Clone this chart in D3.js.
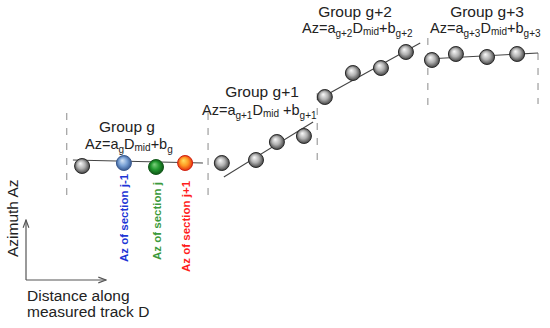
<!DOCTYPE html>
<meta charset="utf-8">
<head>
  <title>Azimuth groups along measured track</title>
  <style>
    body { margin: 0; background: #fff; }
    svg { display: block; font-family: "Liberation Sans", Arial, sans-serif; }
    .fit { stroke: #444; stroke-width: 1.1px; fill: none; }
    .bound { stroke: #8a8a8a; stroke-width: 1px; stroke-dasharray: 7,8; }
    .axis-arrow { stroke: #555; stroke-width: 1.2px; fill: none; }
    .lbl { fill: #222; }
  </style>
</head>
<body>
  <svg width="550" height="328"></svg>
  <script src="https://d3js.org/d3.v7.min.js"></script>
  <script>
    // groups (D and Az in arbitrary units 0-100)
    var groups = ["g", "g+1", "g+2", "g+3"];

    // section midpoints per group
    var pointD = [
      [10.8, 19.0, 25.3, 31.0],
      [38.2, 44.9, 49.0, 54.3],
      [58.4, 63.9, 69.4, 74.3],
      [79.4, 84.1, 90.2, 96.1]
    ];
    var pointAz = [
      [45.6, 46.8, 45.2, 46.8],
      [46.8, 48.0, 55.2, 57.6],
      [73.2, 82.8, 84.8, 91.2],
      [88.0, 90.4, 89.2, 90.4]
    ];
    // which sections are highlighted (group g, sections j-1, j, j+1)
    var sectionTags = [[null, "j-1", "j", "j+1"], [null, null, null, null], [null, null, null, null], [null, null, null, null]];

    // fitted line Az = a*D + b, drawn between two D values
    var fitD = [[9.0, 34.5], [38.6, 56.1], [56.9, 77.1], [78.4, 100.2]];
    var fitAz = [[48.0, 46.8], [41.2, 63.2], [72.0, 94.8], [88.4, 90.8]];

    // group boundaries (dashed)
    var boundD = [7.8, 35.5, 56.9, 78.6, 100.2];
    var boundAz = [[31.2, 66.8], [31.2, 66.8], [47.2, 74.8], [67.2, 96.8], [70.4, 90.8]];

    var svg = d3.select("svg");
    var x = d3.scaleLinear().domain([0, 100]).range([27, 537]);
    var y = d3.scaleLinear().domain([0, 100]).range([280, 30]);

    var defs = svg.append("defs");
    var palettes = {
      gray:  ["#fbfbfb", "#b0b0b0", "#333333"],
      "j-1": ["#d8e6f6", "#7aa2d6", "#2d4f88"],
      "j":   ["#7fd07f", "#239a30", "#0b4a12"],
      "j+1": ["#ffe060", "#ff9a24", "#e0200c"]
    };
    Object.keys(palettes).forEach(function(k, i) {
      var gr = defs.append("radialGradient").attr("id", "ball" + i)
        .attr("cx", "50%").attr("cy", "50%").attr("r", "55%")
        .attr("fx", "38%").attr("fy", "32%");
      gr.append("stop").attr("offset", "0%").attr("stop-color", palettes[k][0]);
      gr.append("stop").attr("offset", "50%").attr("stop-color", palettes[k][1]);
      gr.append("stop").attr("offset", "100%").attr("stop-color", palettes[k][2]);
      palettes[k].id = "url(#ball" + i + ")";
    });
    var edge = { gray: "#2a2a2a", "j-1": "#3a5a90", "j": "#145a1c", "j+1": "#d02010" };

    defs.append("marker").attr("id", "arr")
      .attr("viewBox", "0 0 10 10").attr("refX", 9).attr("refY", 5)
      .attr("markerWidth", 8).attr("markerHeight", 8).attr("orient", "auto")
      .append("path").attr("d", "M1,2 L9,5 L1,8").attr("fill", "none")
      .attr("stroke", "#555").attr("stroke-width", 1.2);

    // dashed group boundaries
    svg.selectAll(".bound").data(boundD).enter().append("line")
      .attr("class", "bound")
      .attr("x1", function(d) { return x(d); }).attr("x2", function(d) { return x(d); })
      .attr("y1", function(d, i) { return y(boundAz[i][1]); })
      .attr("y2", function(d, i) { return y(boundAz[i][0]); });

    // fitted lines
    svg.selectAll(".fit").data(groups).enter().append("line")
      .attr("class", "fit")
      .attr("x1", function(d, i) { return x(fitD[i][0]); })
      .attr("x2", function(d, i) { return x(fitD[i][1]); })
      .attr("y1", function(d, i) { return y(fitAz[i][0]); })
      .attr("y2", function(d, i) { return y(fitAz[i][1]); });

    // balls
    var pts = [];
    groups.forEach(function(g, gi) {
      pointD[gi].forEach(function(d, k) {
        pts.push({ D: d, Az: pointAz[gi][k], tag: sectionTags[gi][k] || "gray" });
      });
    });
    svg.selectAll(".ball").data(pts).enter().append("circle")
      .attr("class", "ball")
      .attr("cx", function(d) { return x(d.D); })
      .attr("cy", function(d) { return y(d.Az); })
      .attr("r", 7.5)
      .attr("fill", function(d) { return palettes[d.tag].id; })
      .attr("stroke", function(d) { return edge[d.tag]; })
      .attr("stroke-width", 1);

    // rotated section labels under highlighted balls
    var tagColor = { "j-1": "#1d35d6", "j": "#3c9a3c", "j+1": "#ff1c1c" };
    var tagBottom = { "j-1": 262, "j": 260, "j+1": 272 };
    pts.filter(function(d) { return d.tag !== "gray"; }).forEach(function(d) {
      var cx = x(d.D) + 4.5;
      svg.append("text")
        .attr("transform", "translate(" + cx + "," + tagBottom[d.tag] + ") rotate(-90)")
        .attr("font-size", 11.5).attr("font-weight", "bold")
        .attr("fill", tagColor[d.tag])
        .text("Az of section " + d.tag);
    });

    // group titles and formulas
    var titleX = [127, 262, 355, 487];
    var titleY = [132, 97, 17, 17];
    var formX = [85, 202, 302, 430];
    var formY = [149, 115, 33, 33];
    var formGap = ["", " ", "", ""];

    groups.forEach(function(g, i) {
      svg.append("text").attr("class", "lbl")
        .attr("x", titleX[i]).attr("y", titleY[i])
        .attr("text-anchor", "middle").attr("font-size", 15.5)
        .text("Group " + g);

      var t = svg.append("text").attr("class", "lbl")
        .attr("x", formX[i]).attr("y", formY[i]).attr("font-size", 14.5);
      t.append("tspan").text("Az=a");
      t.append("tspan").attr("font-size", 10).attr("dy", 4).text(g);
      t.append("tspan").attr("dy", -4).text("D");
      t.append("tspan").attr("font-size", 10).attr("dy", 2).text("mid");
      t.append("tspan").attr("dy", -2).text(formGap[i] + "+b");
      t.append("tspan").attr("font-size", 10).attr("dy", 4).text(g);
    });

    // axes sketch
    svg.append("line").attr("class", "axis-arrow")
      .attr("x1", 26).attr("y1", 280).attr("x2", 26).attr("y2", 220)
      .attr("marker-end", "url(#arr)");
    svg.append("line").attr("class", "axis-arrow")
      .attr("x1", 26).attr("y1", 280).attr("x2", 106).attr("y2", 280)
      .attr("marker-end", "url(#arr)");

    svg.append("text").attr("class", "lbl")
      .attr("transform", "translate(18,257) rotate(-90)")
      .attr("font-size", 15.5).text("Azimuth Az");
    svg.append("text").attr("class", "lbl")
      .attr("x", 27).attr("y", 301).attr("font-size", 15.5).text("Distance along");
    svg.append("text").attr("class", "lbl")
      .attr("x", 27).attr("y", 317).attr("font-size", 15.5).text("measured track D");
  </script>
</body>
</html>
